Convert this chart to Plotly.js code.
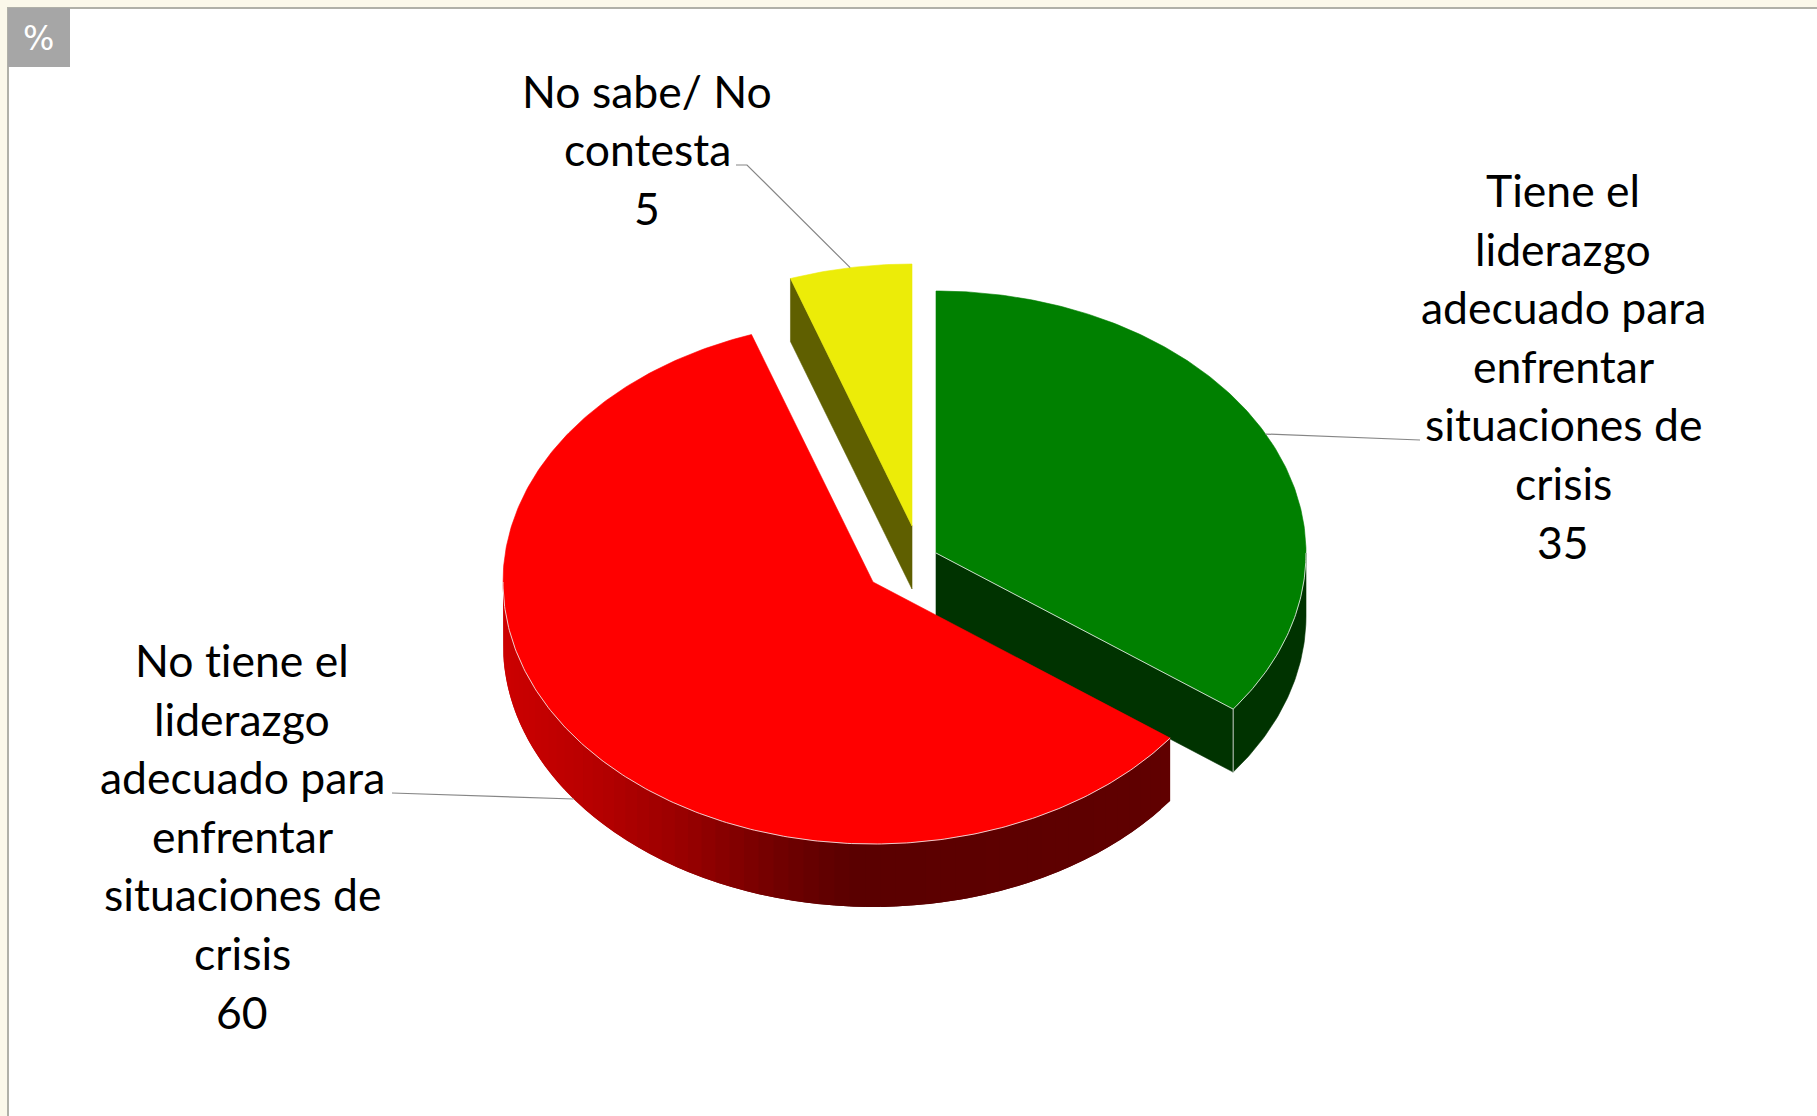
<!DOCTYPE html>
<html><head><meta charset="utf-8">
<script src="https://cdn.plot.ly/plotly-3.0.1.min.js"></script>
<style>html,body{margin:0;padding:0;background:#fbf8ea;overflow:hidden}
svg text{font-variant-ligatures:none;font-feature-settings:"liga" 0}</style>
</head><body><div id="chart" style="width:1817px;height:1116px"></div>
<script>
// ---- data ----
const categories = ["Tiene el liderazgo adecuado para enfrentar situaciones de crisis",
                    "No tiene el liderazgo adecuado para enfrentar situaciones de crisis",
                    "No sabe/ No contesta"];
const values = [35, 60, 5];
const labelLines = [
  ["Tiene el","liderazgo","adecuado para","enfrentar","situaciones de","crisis"],
  ["No tiene el","liderazgo","adecuado para","enfrentar","situaciones de","crisis"],
  ["No sabe/ No","contesta"]
];
const unitLabel = "%";

// ---- styles / geometry ----
const topColors  = ["#008000","#ff0000","#ecec08"];
const wallColors = ["#003300","#600000","#5f5f00"];
const rampX   = [503,580,680,780,850,1172];
const rampRed = [204,187,154,112,90,96];
const centers = [[936,553],[873,582],[912,526]];
const RX = 370, RY = 262, DEPTH = 63;
const labelCenterX = [1563,242,647];
const labelTopY    = [189.5,659.5,90];
const LINE_H = 58.6;
const FONT = "Lato, Carlito, Calibri, sans-serif";
const FONT_SIZE = 44.5;
const edge = "rgba(235,235,235,0.85)";

const total = values.reduce((a,b)=>a+b,0);
const rad = d => d*Math.PI/180;
// slight foreshortening of the 3-D view
const warp = d => d>270 ? d+2*Math.sin(rad(2*d)) : (d>90&&d<180 ? d+0.6*Math.sin(rad(2*(d-90))) : d);
const pt = (c,deg,dy=0) => {const w=rad(warp(deg)); return [c[0]+RX*Math.sin(w), c[1]-RY*Math.cos(w)+dy];};
function arc(c,a,b,dy=0){
  const n = Math.max(2,Math.ceil(Math.abs(b-a)*1.5)), out=[];
  for(let i=0;i<=n;i++) out.push(pt(c,a+(b-a)*i/n,dy));
  return out;
}
let acc=0;
const slices = values.map((v,i)=>{const a=acc; acc+=v/total*360; return {a,b:acc,mid:(a+acc)/2,c:centers[i],i};});

const traces=[];
function poly(points,color,lw){
  const xs=points.map(p=>p[0]), ys=points.map(p=>p[1]);
  traces.push({type:"scatter",mode:"lines",x:xs.concat(xs[0]),y:ys.concat(ys[0]),fill:"toself",fillcolor:color,
    line:{color:color,width:lw===undefined?0.6:lw},hoverinfo:"skip",showlegend:false});
}
function stroke(points,color,w){
  traces.push({type:"scatter",mode:"lines",x:points.map(p=>p[0]),y:points.map(p=>p[1]),
    line:{color:color,width:w},hoverinfo:"skip",showlegend:false});
}
function redAt(x){
  for(let i=0;i<rampX.length-1;i++){
    if(x<=rampX[i+1]){const t=Math.max(0,(x-rampX[i])/(rampX[i+1]-rampX[i]));
      return Math.round(rampRed[i]+(rampRed[i+1]-rampRed[i])*t);}
  }
  return rampRed[rampRed.length-1];
}
const [G,R,Y]=slices;

// yellow: cut face then top
poly([Y.c,pt(Y.c,Y.a),pt(Y.c,Y.a,DEPTH),[Y.c[0],Y.c[1]+DEPTH]],wallColors[2]);
poly([Y.c].concat(arc(Y.c,Y.a,Y.b)),topColors[2]);

// green: cut face, outer wall, top, edges
poly([G.c,pt(G.c,G.b),pt(G.c,G.b,DEPTH),[G.c[0],G.c[1]+DEPTH]],wallColors[0]);
poly(arc(G.c,90,G.b).concat(arc(G.c,G.b,90,DEPTH)),wallColors[0]);
poly([G.c].concat(arc(G.c,G.a,G.b)),topColors[0]);
stroke([G.c,pt(G.c,G.b)].concat(arc(G.c,G.b,90)),edge,1);
stroke([pt(G.c,G.b),pt(G.c,G.b,DEPTH)],edge,1);

// red: outer wall as shaded strips painted right-to-left, each running under the next
const STRIPS=60;
for(let i=0;i<STRIPS;i++){
  const a=R.a+(270-R.a)*i/STRIPS, b=R.a+(270-R.a)*Math.min(STRIPS,i+2)/STRIPS;
  const m=pt(R.c,R.a+(270-R.a)*(i+0.5)/STRIPS);
  poly(arc(R.c,a,b).concat(arc(R.c,b,a,DEPTH)),"rgb("+redAt(m[0])+",0,0)",0);
}
poly([R.c].concat(arc(R.c,R.a,R.b)),topColors[1]);
stroke(arc(R.c,R.a,270),edge,1);

// leader lines, anchored at each slice's mid angle
const leader="#868686";
stroke([pt(G.c,G.mid),[1420,440]],leader,1.2);
stroke([pt(R.c,R.mid,DEPTH),[392,793]],leader,1.2);
stroke([pt(Y.c,Y.mid),[747,165],[736,165]],leader,1.2);

// labels
const annotations=[];
labelLines.forEach((lines,i)=>{
  lines.concat(String(values[i])).forEach((t,k)=>{
    annotations.push({xref:"x",yref:"y",x:labelCenterX[i],y:labelTopY[i]+k*LINE_H,text:t,showarrow:false,
      xanchor:"center",yanchor:"middle",font:{family:FONT,size:FONT_SIZE,color:"#000"}});
  });
});
annotations.push({xref:"x",yref:"y",x:38,y:38,text:unitLabel,showarrow:false,xanchor:"center",yanchor:"middle",
  font:{family:"'DejaVu Sans', sans-serif",size:33,color:"#fff"}});

const layout={
  width:1817,height:1116,margin:{l:0,r:0,t:0,b:0},
  paper_bgcolor:"#fbf8ea",plot_bgcolor:"rgba(0,0,0,0)",showlegend:false,
  xaxis:{range:[0,1817],visible:false,fixedrange:true},
  yaxis:{range:[1116,0],visible:false,fixedrange:true},
  shapes:[
    {type:"rect",layer:"below",xref:"x",yref:"y",x0:8,y0:8,x1:1830,y1:1130,fillcolor:"#ffffff",line:{color:"#b0b0a8",width:2}},
    {type:"rect",layer:"below",xref:"x",yref:"y",x0:8,y0:8,x1:70,y1:67,fillcolor:"#a6a6a6",line:{width:0}}
  ],
  annotations
};
Plotly.newPlot("chart",traces,layout,{displayModeBar:false,staticPlot:true});
</script></body></html>
